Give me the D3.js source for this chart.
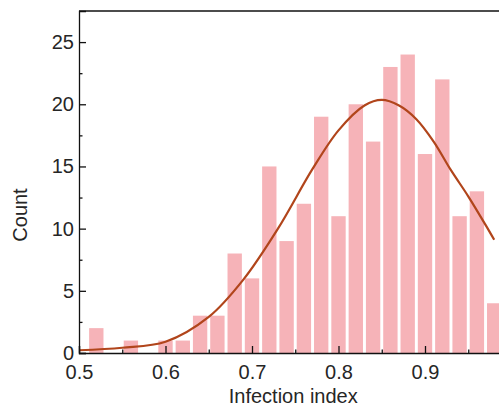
<!DOCTYPE html>
<html>
<head>
<meta charset="utf-8">
<script src="https://cdn.jsdelivr.net/npm/d3@7"></script>
<style>
  html, body { margin: 0; padding: 0; background: #fff; overflow: hidden; }
  svg { display: block; }
  text { font-family: "Liberation Sans", Arial, sans-serif; fill: #262626; }
</style>
</head>
<body>
<div id="container"></div>
<script>
// histogram bins (centre of each bin) and their counts
const binCenters = [0.52, 0.56, 0.60, 0.62, 0.64, 0.66, 0.68, 0.70, 0.72, 0.74, 0.76,
                    0.78, 0.80, 0.82, 0.84, 0.86, 0.88, 0.90, 0.92, 0.94, 0.96, 0.98]
const counts = [2, 1, 1, 1, 3, 3, 8, 6, 15, 9, 12, 19, 11, 20, 17, 23, 24, 16, 22, 11, 13, 4]

// fitted curve
const fitX = [0.50, 0.55, 0.60, 0.65, 0.69, 0.73, 0.77, 0.80, 0.83, 0.85, 0.87, 0.89, 0.91, 0.93, 0.95, 0.97, 0.98]
const fitY = [0.22, 0.42, 0.9, 2.9, 5.9, 10.0, 14.8, 17.9, 19.9, 20.35, 19.9, 18.8, 17.0, 14.7, 12.6, 10.3, 9.1]

// the 1.0 tick sits outside the visible picture
const xTicks = [0.5, 0.6, 0.7, 0.8, 0.9]
const xMinor = [0.55, 0.65, 0.75, 0.85, 0.95]
const yTicks = [0, 5, 10, 15, 20, 25]
const yMinor = [2.5, 7.5, 12.5, 17.5, 22.5]

const w = 499
const h = 409
const binHalf = 0.0083

const svg = d3.select("#container")
  .append("svg")
  .attr("width", w)
  .attr("height", h)

const x = d3.scaleLinear().domain([0.5, 1.0]).range([79, 511.5])
const y = d3.scaleLinear().domain([0, 27.5]).range([353, 11])

// bars
svg.selectAll("rect.bar")
  .data(binCenters)
  .enter()
  .append("rect")
  .attr("class", "bar")
  .attr("x", (c) => x(c - binHalf))
  .attr("width", (c) => x(c + binHalf) - x(c - binHalf))
  .attr("y", (c, i) => y(counts[i]))
  .attr("height", (c, i) => y(0) - y(counts[i]))
  .attr("fill", "#f6b3b8")

// fit curve
const line = d3.line()
  .x((d) => x(d[0]))
  .y((d) => y(d[1]))
  .curve(d3.curveCatmullRom.alpha(0.5))

svg.append("path")
  .datum(fitX.map((v, i) => [v, fitY[i]]))
  .attr("d", line)
  .attr("fill", "none")
  .attr("stroke", "#b1451b")
  .attr("stroke-width", 2.2)

// axes, ticks pointing inward
const xAxis = svg.append("g")
  .attr("transform", "translate(0," + y(0) + ")")
  .call(d3.axisBottom(x).tickValues(xTicks).tickSize(-7).tickPadding(12)
    .tickFormat(d3.format(".1f")))
xAxis.selectAll("text").attr("font-size", 20).attr("dy", "0.71em")

svg.append("g")
  .attr("transform", "translate(0," + y(0) + ")")
  .call(d3.axisBottom(x).tickValues(xMinor).tickSize(-3.5).tickFormat(""))
  .select(".domain").remove()

const yAxis = svg.append("g")
  .attr("transform", "translate(" + x(0.5) + ",0)")
  .call(d3.axisLeft(y).tickValues(yTicks).tickSize(-7).tickPadding(5))
yAxis.selectAll("text").attr("font-size", 20)

svg.append("g")
  .attr("transform", "translate(" + x(0.5) + ",0)")
  .call(d3.axisLeft(y).tickValues(yMinor).tickSize(-3.5).tickFormat(""))
  .select(".domain").remove()

svg.selectAll(".domain, .tick line").attr("stroke", "#111").attr("stroke-width", 1.3)
svg.selectAll(".tick text").attr("fill", "#262626")

// top frame line
svg.append("line")
  .attr("x1", x(0.5)).attr("x2", x(1.0))
  .attr("y1", y(27.5)).attr("y2", y(27.5))
  .attr("stroke", "#111")
  .attr("stroke-width", 1.3)

// axis titles
svg.append("text")
  .attr("x", (x(0.5) + x(1.0)) / 2 - 2)
  .attr("y", 403)
  .attr("text-anchor", "middle")
  .attr("font-size", 20)
  .text("Infection index")

svg.append("text")
  .attr("transform", "translate(27,215) rotate(-90)")
  .attr("text-anchor", "middle")
  .attr("font-size", 20)
  .text("Count")
</script>
</body>
</html>
